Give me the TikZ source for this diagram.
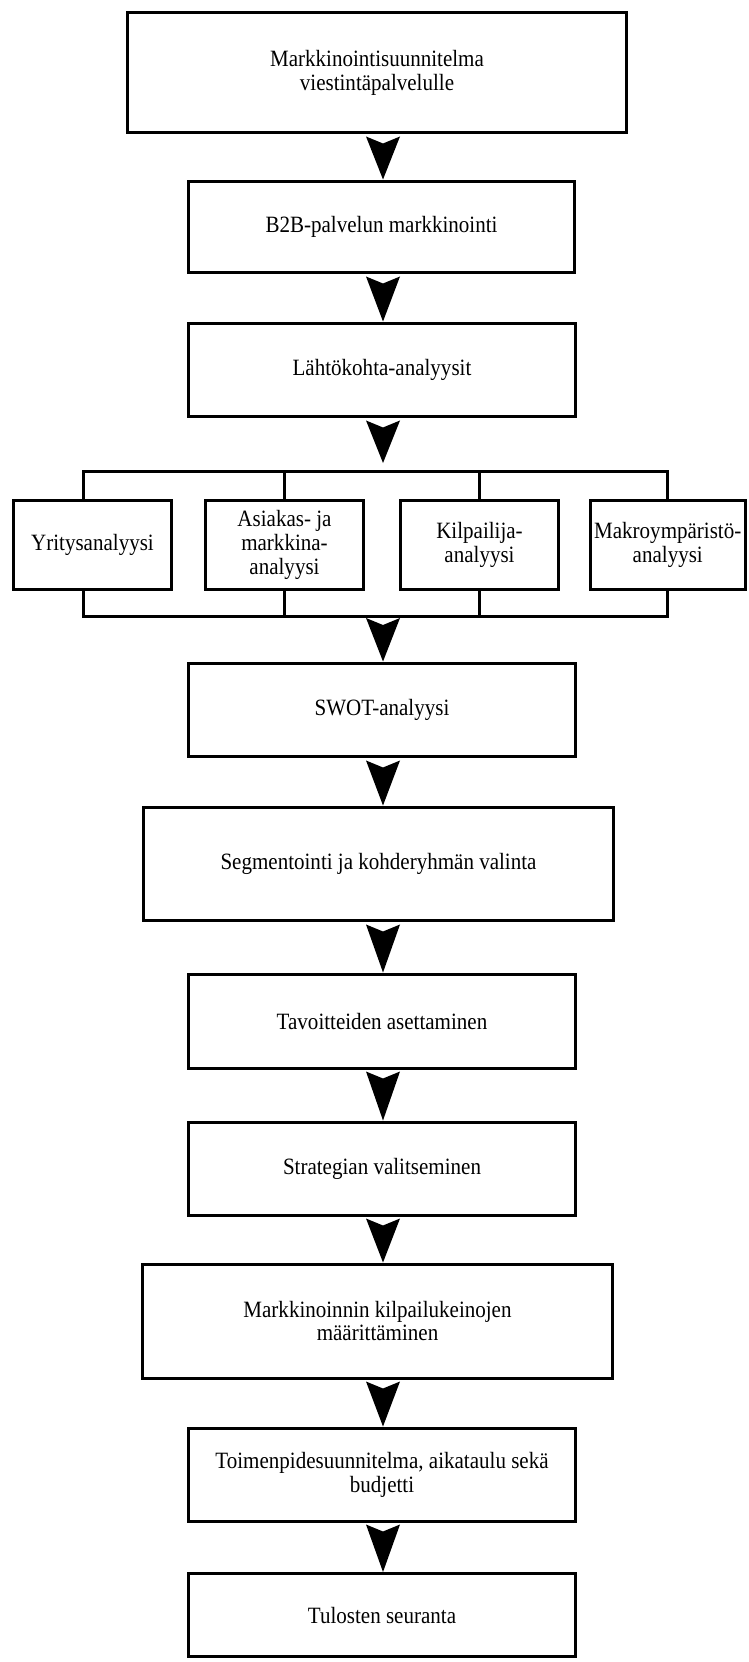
\documentclass[tikz,border=0pt]{standalone}
\usepackage{fontspec}
\setmainfont[FakeStretch=0.9]{Liberation Serif}
\usetikzlibrary{calc}

\tikzset{
  box/.style={draw, line width=0.06cm, inner sep=2pt, align=center,
              font=\fontsize{13.3pt}{13.6pt}\selectfont},
  wh/.style 2 args={minimum width=#1cm, minimum height=#2cm},
  link/.style={draw, line width=0.06cm},
  arrowfill/.style={fill=black},
}

% solid arrowhead filling the gap between two boxes
\newcommand\flowarrow[2]{%
  \fill[arrowfill] ($(#1)+(-17,2)$) -- (#2) -- ($(#1)+(17,2)$)
    -- ($(#1)+(0,9)$) -- cycle;}

\begin{document}
\begin{tikzpicture}[x=0.02cm, y=-0.02cm]
\useasboundingbox (0,0) rectangle (748,1662);

\coordinate (ax) at (383,0);

% main column
\node[box, wh={10}{2.42}]   (plan)  at (377,72.5) {Markkinointisuunnitelma\\viestintäpalvelulle};
\node[box, wh={7.74}{1.84}] (b2b)   at (381.5,227) {B2B-palvelun markkinointi};
\node[box, wh={7.76}{1.88}] (lahto) at (382,370) {Lähtökohta-analyysit};

% analysis row
\node[box, wh={3.18}{1.8}] (yritys)  at (92.5,545)  {Yritysanalyysi};
\node[box, wh={3.18}{1.8}] (asiakas) at (284.5,545) {Asiakas- ja\\markkina-\\analyysi};
\node[box, wh={3.18}{1.8}] (kilp)    at (479.5,545) {Kilpailija-\\analyysi};
\node[box, wh={3.11}{1.8}] (makro)   at (667.75,545) {Makroympäristö-\\analyysi};

\node[box, wh={7.76}{1.88}] (swot)  at (382,710)    {SWOT-analyysi};
\node[box, wh={9.42}{2.28}] (segm)  at (378.5,864)  {Segmentointi ja kohderyhmän valinta};
\node[box, wh={7.76}{1.88}] (tavo)  at (382,1021)   {Tavoitteiden asettaminen};
\node[box, wh={7.76}{1.86}] (strat) at (382,1168.5) {Strategian valitseminen};
\node[box, wh={9.42}{2.28}] (keino) at (377.5,1321) {Markkinoinnin kilpailukeinojen\\määrittäminen};
\node[box, wh={7.76}{1.86}] (toimi) at (382,1474.5) {Toimenpidesuunnitelma, aikataulu sekä\\budjetti};
\node[box, wh={7.76}{1.66}] (tulos) at (382,1615)   {Tulosten seuranta};

% brackets joining the analysis row
\coordinate (tl) at (83,471);
\coordinate (tr) at (667,471);
\coordinate (bl) at (83,616);
\coordinate (br) at (667,616);
\draw[link] (yritys.north -| tl) -- (tl) -- (tr) -- (makro.north -| tr);
\draw[link] (asiakas.north) -- (asiakas.north |- tl);
\draw[link] (kilp.north) -- (kilp.north |- tl);
\draw[link] (yritys.south -| bl) -- (bl) -- (br) -- (makro.south -| br);
\draw[link] (asiakas.south) -- (asiakas.south |- bl);
\draw[link] (kilp.south) -- (kilp.south |- bl);

% arrows
\flowarrow{plan.south -| ax}{b2b.north -| ax}
\flowarrow{b2b.south -| ax}{lahto.north -| ax}
\flowarrow{lahto.south -| ax}{$(tl -| ax)+(0,-8)$}
\flowarrow{bl -| ax}{swot.north -| ax}
\flowarrow{swot.south -| ax}{segm.north -| ax}
\flowarrow{segm.south -| ax}{tavo.north -| ax}
\flowarrow{tavo.south -| ax}{strat.north -| ax}
\flowarrow{strat.south -| ax}{keino.north -| ax}
\flowarrow{keino.south -| ax}{toimi.north -| ax}
\flowarrow{toimi.south -| ax}{tulos.north -| ax}
\end{tikzpicture}
\end{document}
